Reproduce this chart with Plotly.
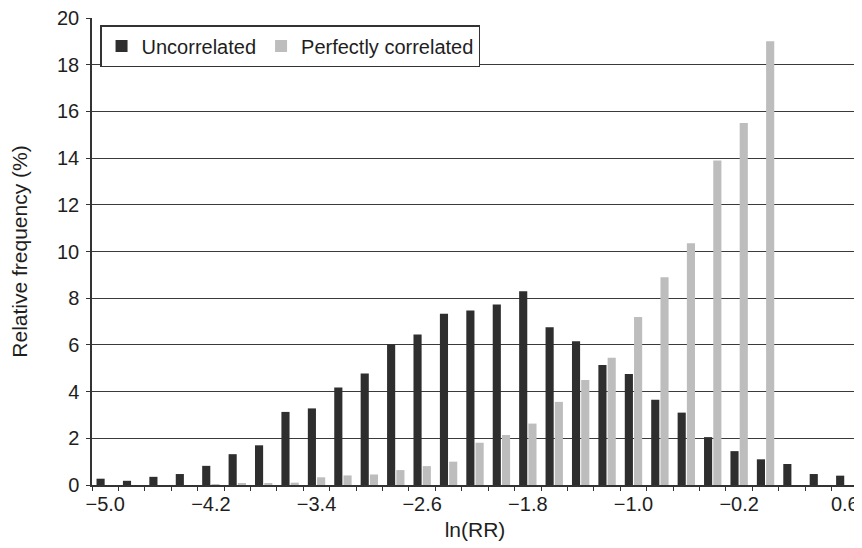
import plotly.graph_objects as go

ln_rr = [-5.0, -4.8, -4.6, -4.4, -4.2, -4.0, -3.8, -3.6, -3.4, -3.2, -3.0, -2.8, -2.6, -2.4,
         -2.2, -2.0, -1.8, -1.6, -1.4, -1.2, -1.0, -0.8, -0.6, -0.4, -0.2, 0.0, 0.2, 0.4, 0.6]
uncorrelated = [0.27, 0.18, 0.35, 0.47, 0.82, 1.32, 1.70, 3.13, 3.28, 4.18, 4.78, 6.02, 6.45, 7.33,
                7.47, 7.73, 8.30, 6.76, 6.16, 5.14, 4.75, 3.65, 3.10, 2.05, 1.45, 1.10, 0.90, 0.47, 0.40]
perfectly_correlated = [0.0, 0.0, 0.0, 0.0, 0.02, 0.05, 0.08, 0.10, 0.33, 0.41, 0.45, 0.64, 0.81, 1.00,
                        1.81, 2.14, 2.63, 3.56, 4.50, 5.45, 7.20, 8.90, 10.35, 13.90, 15.50, 19.00, 0.0, 0.0, 0.0]
x_tick_vals = [-5.0, -4.2, -3.4, -2.6, -1.8, -1.0, -0.2, 0.6]
y_tick_vals = [0, 2, 4, 6, 8, 10, 12, 14, 16, 18, 20]

FONT = "Liberation Sans, Arial, sans-serif"
TXT = "#1e1e1e"

fig = go.Figure()
fig.add_trace(go.Bar(x=ln_rr, y=uncorrelated, name="Uncorrelated",
                     marker=dict(color="#2e2e2e", line=dict(width=0))))
fig.add_trace(go.Bar(x=ln_rr, y=perfectly_correlated, name="Perfectly correlated",
                     marker=dict(color="#bdbdbd", line=dict(width=0))))

# page body has an 8px default margin, so the figure is sized/offset to compensate
fig.update_layout(
    width=854, height=540,
    margin=dict(l=84, r=4, t=10, b=63),
    paper_bgcolor="white", plot_bgcolor="white",
    barmode="group", bargap=0.3, bargroupgap=0.12,
    font=dict(family=FONT, size=20, color=TXT),
    showlegend=True,
    legend=dict(orientation="h", x=0.0105, y=0.985, xanchor="left", yanchor="top",
                bgcolor="white", bordercolor="#333", borderwidth=1.5,
                font=dict(family=FONT, size=20, color=TXT),
                itemwidth=30, tracegroupgap=0, traceorder="normal"),
    xaxis=dict(range=[-5.1, 0.7], tickvals=x_tick_vals, tickformat=".1f",
               ticks="", showgrid=False, zeroline=False, automargin=False,
               showline=True, linecolor="#333", linewidth=1.5,
               ticklabeloverflow="allow",
               tickfont=dict(family=FONT, size=20, color=TXT),
               minor=dict(tick0=-5.1, dtick=0.2, ticks="outside", ticklen=4,
                          tickcolor="#333", tickwidth=1, showgrid=False),
               title=dict(text="ln(RR)", font=dict(family=FONT, size=21, color=TXT), standoff=9)),
    yaxis=dict(range=[0, 20], tickvals=y_tick_vals, ticks="outside", ticklen=4,
               tickcolor="#333", showgrid=True, gridcolor="#3a3a3a", gridwidth=1.3,
               zeroline=False, showline=True, linecolor="#333", linewidth=1.5,
               automargin=False, ticklabelstandoff=3, ticklabeloverflow="allow",
               tickfont=dict(family=FONT, size=20, color=TXT),
               title=dict(text="Relative frequency (%)",
                          font=dict(family=FONT, size=21, color=TXT), standoff=34)),
)

fig.write_html("out.html")
